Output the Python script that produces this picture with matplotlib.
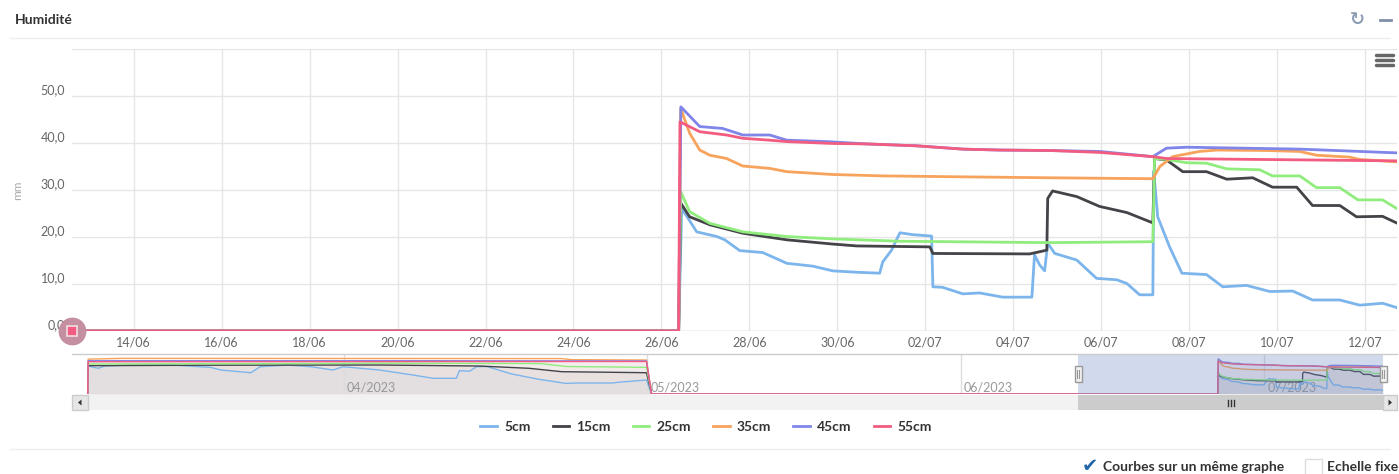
import datetime as dt

import matplotlib
matplotlib.use('Agg')
import matplotlib.dates as mdates
import matplotlib.pyplot as plt
import numpy as np
from matplotlib import transforms
from matplotlib.lines import Line2D
from matplotlib.patches import Rectangle, Polygon

W, H = 1399, 474
START = dt.datetime(2023, 6, 26)   # day 0 of the day offsets below

# soil moisture per depth: day offsets from 26/06/2023 and values (mm)
days_5cm = [-111.35, -111.3, -110.3, -109.7, -107.3, -103.1, -99.2, -98.2, -95.2, -94.3,
            -91.6, -89.3, -87.1, -86.1, -82.5, -79.2, -77.2, -74.9, -74.6, -73.6,
            -72.9, -71.9, -69.4, -66.7, -64.1, -62.8, -59.5, -58.9, -56.1, -55.6,
            0.39, 0.46, 0.80, 1.26, 1.44, 1.78, 2.30, 2.85, 3.44, 3.89,
            4.44, 4.96, 5.03, 5.23, 5.42, 5.71, 6.14, 6.17, 6.39, 6.85,
            7.23, 7.76, 8.42, 8.48, 8.60, 8.71, 8.78, 8.94, 9.44, 9.89,
            10.35, 10.58, 10.87, 11.17, 11.19, 11.28, 11.55, 11.83, 12.39, 12.76,
            13.30, 13.83, 14.35, 14.80, 15.42, 15.87, 16.39, 16.71]
hum_5cm = [0, 38.1, 35.0, 38.1, 39.5, 39.5, 36.3, 32.7, 29.0, 37.2,
           39.5, 37.2, 32.7, 37.2, 32.7, 25.9, 21.4, 21.4, 31.8, 31.0,
           37.2, 37.5, 27.2, 20.0, 14.5, 15.0, 15.0, 16.0, 19.1, 0,
           0, 26.1, 21.1, 20.1, 19.4, 17.1, 16.7, 14.4, 13.8, 12.8,
           12.5, 12.3, 14.7, 17.2, 20.9, 20.5, 20.2, 9.4, 9.3, 7.9,
           8.1, 7.2, 7.2, 16.2, 14.0, 12.8, 18.7, 16.5, 15.1, 11.2,
           10.9, 10.1, 7.7, 7.7, 34.0, 24.3, 17.9, 12.3, 12.0, 9.4,
           9.7, 8.4, 8.5, 6.6, 6.6, 5.5, 5.9, 5.0]

days_15cm = [-111.35, -111.3, -100.0, -82.5, -72.6, -67.7, -64.5, -56.1, -55.6,
             0.39, 0.44, 0.64, 1.10, 1.85, 2.85, 3.89, 4.44, 6.10, 6.17,
             8.37, 8.76, 8.78, 8.89, 9.44, 9.96, 10.58, 11.17, 11.21, 11.48,
             11.85, 12.39, 12.85, 13.44, 13.89, 14.44, 14.80, 15.42, 15.80, 16.39, 16.71]
hum_15cm = [0, 38.6, 39.2, 39.5, 38.1, 35.0, 30.4, 29.0, 0,
            0, 27.2, 24.3, 22.6, 20.8, 19.4, 18.5, 18.1, 17.9, 16.5,
            16.4, 17.2, 28.2, 29.8, 28.6, 26.5, 25.2, 23.0, 36.7, 36.4,
            33.9, 33.9, 32.3, 32.6, 30.6, 30.6, 26.7, 26.7, 24.3, 24.4, 23.0]

days_25cm = [-111.35, -111.3, -90.0, -82.5, -66.6, -64.0, -56.1, -55.6,
             0.39, 0.44, 0.64, 1.10, 1.85, 2.85, 3.89, 5.42, 8.83, 11.17,
             11.21, 11.48, 11.94, 12.39, 12.85, 13.60, 13.89, 14.51, 14.89, 15.42,
             15.83, 16.39, 16.71]
hum_25cm = [0, 40.9, 41.5, 42.0, 41.5, 37.5, 36.3, 0,
            0, 29.6, 25.4, 22.9, 21.1, 20.1, 19.6, 19.1, 18.8, 19.0,
            36.7, 36.5, 35.8, 35.7, 34.5, 34.3, 33.0, 33.0, 30.5, 30.5,
            27.9, 27.9, 26.1]

days_35cm = [-111.35, -111.3, -108.0, -64.5, -63.5, -56.1, -55.6,
             0.39, 0.44, 0.64, 0.87, 1.10, 1.48, 1.85, 2.46, 2.85, 3.89,
             5.03, 6.85, 8.83, 11.17, 11.33, 11.62, 12.23, 12.62, 13.76, 14.51,
             14.89, 15.64, 15.87, 16.71]
hum_35cm = [0, 47.5, 48.6, 48.3, 46.8, 46.3, 0,
            0, 47.3, 42.1, 38.5, 37.4, 36.7, 35.1, 34.6, 33.9, 33.3,
            33.0, 32.8, 32.6, 32.4, 35.0, 37.1, 38.2, 38.5, 38.4, 38.2,
            37.4, 37.0, 36.5, 36.0]

days_45cm = [-111.35, -111.3, -80.0, -56.1, -55.6,
             0.39, 0.44, 0.87, 1.39, 1.85, 2.46, 2.85, 3.76, 4.67, 5.80,
             6.85, 7.69, 8.83, 9.96, 11.17, 11.48, 11.94, 14.51, 16.71]
hum_45cm = [0, 45.4, 45.4, 45.0, 0,
            0, 47.7, 43.5, 43.1, 41.7, 41.7, 40.6, 40.3, 39.8, 39.4,
            38.7, 38.5, 38.4, 38.2, 37.1, 38.9, 39.1, 38.7, 37.9]

days_55cm = [-111.35, -111.3, -80.0, -56.1, -55.6,
             0.39, 0.42, 0.87, 1.48, 1.85, 2.46, 2.85, 3.89, 4.67, 5.80,
             6.85, 7.69, 8.83, 9.96, 11.17, 11.48, 16.71]
hum_55cm = [0, 44.0, 44.2, 44.3, 0,
            0, 44.5, 42.4, 41.7, 41.0, 40.6, 40.3, 39.9, 39.8, 39.4,
            38.7, 38.5, 38.4, 38.0, 37.1, 36.7, 36.2]

labels = ['5cm', '15cm', '25cm', '35cm', '45cm', '55cm']
colors = ['#7cb5ec', '#434348', '#90ed7d', '#f7a35c', '#8085e9', '#f15c80']
all_days = [days_5cm, days_15cm, days_25cm, days_35cm, days_45cm, days_55cm]
all_hum = [hum_5cm, hum_15cm, hum_25cm, hum_35cm, hum_45cm, hum_55cm]

view_start, view_end = -13.4, 16.72   # zoomed window
nav_start = -112.9                    # navigator left edge

plt.rcParams['font.family'] = ['Lato', 'DejaVu Sans']

fig = plt.figure(figsize=(W / 100, H / 100), dpi=100)


def box(x0, y0, x1, y1):
    # pixel box (top-left origin) -> figure fraction rect
    return [x0 / W, 1 - y1 / H, (x1 - x0) / W, (y1 - y0) / H]


base = mdates.date2num(START)

# main chart
ax = fig.add_axes(box(72, 49, 1397, 331))
for d, v, c in zip(all_days, all_hum, colors):
    ax.plot(base + np.array(d), v, color=c, lw=2, solid_joinstyle='round', zorder=3)
ax.axhline(0, color='#ccd6eb', lw=1, zorder=2)
ax.set_xlim(base + view_start, base + view_end)
ax.set_ylim(0, 60)
ax.set_yticks(range(0, 61, 10))
ax.set_yticklabels([f'{v},0' for v in range(0, 51, 10)] + [''])
ax.xaxis.set_major_locator(mdates.DayLocator(bymonthday=range(2, 32, 2)))
ax.xaxis.set_major_formatter(mdates.DateFormatter('%d/%m'))
ax.grid(True, color='#e6e6e6', lw=1)
ax.set_axisbelow(True)
for s in ax.spines.values():
    s.set_visible(False)
ax.tick_params(length=0, labelsize=9, labelcolor='#666666')
ax.tick_params(axis='y', pad=5)
ax.tick_params(axis='x', pad=4)
for lab in ax.get_yticklabels():
    lab.set_va('bottom')
# hover marker on the first visible point
ax.plot(base + view_start, 0, 'o', ms=19, color='#c48fa0', clip_on=False, zorder=5)
ax.plot(base + view_start, 0, 's', ms=7, color='#f15c80', mec='#f3dde3', mew=1.2,
        clip_on=False, zorder=6)

# navigator
nav = fig.add_axes(box(72, 354, 1383, 394))
for d, v, c in zip(all_days, all_hum, colors):
    x = base + np.array(d)
    nav.fill_between(x, v, color=c, alpha=0.05, lw=0, zorder=1)
    nav.plot(x, v, color=c, lw=1, zorder=3)
nav.set_xlim(base + nav_start, base + view_end)
nav.set_ylim(0, 54.5)
nav.axis('off')
months = mdates.MonthLocator().tick_values(mdates.num2date(base + nav_start),
                                           mdates.num2date(base + view_end))
lab_tr = transforms.offset_copy(
    transforms.blended_transform_factory(nav.transData, nav.transAxes),
    fig=fig, x=3, y=0, units='dots')
for m in months:
    if base + nav_start < m < base + view_end:
        nav.axvline(m, color='#dddddd', lw=1, zorder=2)
        nav.text(m, 0.17, mdates.num2date(m).strftime('%m/%Y'), transform=lab_tr,
                 fontsize=9, color='#999999', va='center', ha='left', zorder=2)
nav.axvspan(base + view_start, base + view_end, color=(0.4, 0.52, 0.76),
            alpha=0.3, lw=0, zorder=4)

# overlay for page decorations (pixel coords)
ov = fig.add_axes([0, 0, 1, 1], zorder=10)
ov.set_xlim(0, W)
ov.set_ylim(H, 0)
ov.axis('off')
ov.patch.set_alpha(0)

ov.text(15, 20, 'Humidité', fontsize=10, fontweight='bold', color='#333333', va='center')
ov.text(18, 190, 'mm', rotation=90, fontsize=8.5, color='#aaaaaa',
        ha='center', va='center')
ov.plot([10, 1390], [38, 38], color='#eeeeee', lw=1)
ov.plot([10, 1390], [449, 449], color='#eeeeee', lw=1)
ov.text(1357, 20, '\u21bb', family='DejaVu Sans', fontsize=13, fontweight='bold',
        color='#8d9db5', ha='center', va='center')
ov.plot([1380, 1391], [20, 20], color='#7f8fa8', lw=2)
for yy in (55, 60, 65):
    ov.plot([1376, 1393], [yy, yy], color='#666666', lw=2.5, solid_capstyle='round')

# navigator outline, handles and scrollbar
px_day = 1311 / (view_end - nav_start)
hx0 = 72 + (view_start - nav_start) * px_day
hx1 = 72 + (view_end - nav_start) * px_day
ov.plot([72, 1397], [354, 354], color='#cccccc', lw=1)
ov.add_patch(Rectangle((72, 395), 1325, 15, fc='#f2f2f2', ec='none'))
ov.add_patch(Rectangle((hx0, 395), hx1 - hx0, 15, fc='#cccccc', ec='none'))
ov.add_patch(Rectangle((72, 395), 16, 15, fc='#e6e6e6', ec='#cccccc', lw=1))
ov.add_patch(Rectangle((1383, 395), 14, 15, fc='#e6e6e6', ec='#cccccc', lw=1))
ov.add_patch(Polygon([(78, 402.5), (81.5, 399.5), (81.5, 405.5)], fc='#333333'))
ov.add_patch(Polygon([(1392, 402.5), (1388.5, 399.5), (1388.5, 405.5)], fc='#333333'))
gx = (hx0 + hx1) / 2
for dx in (-3, 0, 3):
    ov.plot([gx + dx, gx + dx], [399.5, 405.5], color='#333333', lw=1)
for hx in (hx0, hx1):
    ov.add_patch(Rectangle((hx - 3.5, 366), 7, 16, fc='#f2f2f2', ec='#999999', lw=1))
    for dx in (-1, 1):
        ov.plot([hx + dx, hx + dx], [370, 378], color='#999999', lw=0.8)

# legend
handles = [Line2D([], [], color=c, lw=2) for c in colors]
fig.legend(handles, labels, loc='center', bbox_to_anchor=(706 / W, 1 - 427 / H),
           ncol=6, frameon=False, handlelength=1.2, handletextpad=0.5,
           columnspacing=1.6, prop={'weight': 'bold', 'size': 10})
for t in fig.legends[0].get_texts():
    t.set_color('#333333')

# options row
ov.text(1090, 467, '\u2714', family='DejaVu Sans', fontsize=14, color='#2467a8',
        ha='center', va='center')
ov.text(1103, 467, 'Courbes sur un même graphe', fontsize=10, fontweight='bold',
        color='#333333', va='center')
ov.add_patch(Rectangle((1305, 459), 17, 17, fc='white', ec='#dddddd', lw=1))
ov.text(1327, 467, 'Echelle fixe', fontsize=10, fontweight='bold',
        color='#333333', va='center')

fig.savefig('out.png', dpi=100)
